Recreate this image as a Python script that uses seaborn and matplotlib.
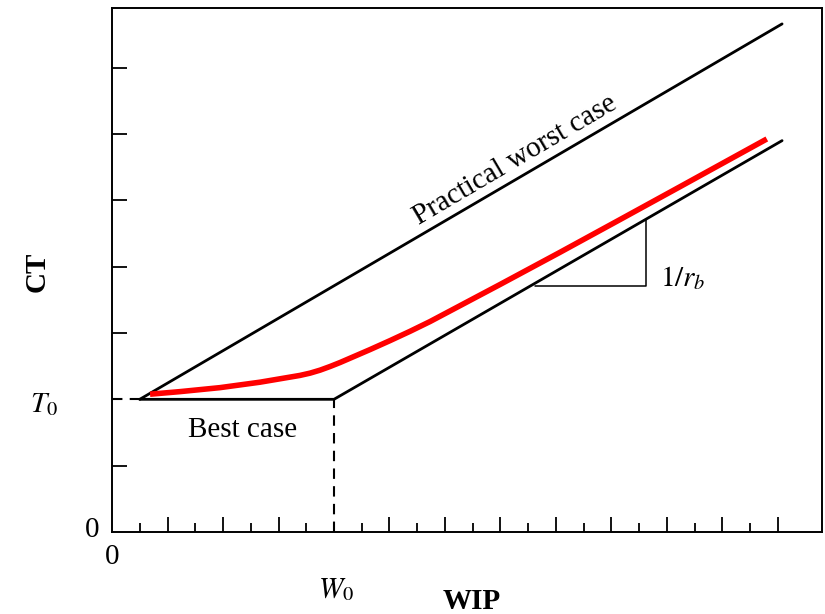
import matplotlib
matplotlib.use("Agg")
import matplotlib.pyplot as plt
import seaborn as sns

# values (x = WIP in tick units, y = CT in tick units)
worst_x = [1.0, 24.15]
worst_y = [2.0, 7.66]
best_x = [1.0, 8.0, 24.15]
best_y = [2.0, 2.0, 5.90]
real_x = [1.37, 2.45, 3.89, 5.33, 6.77, 7.14, 7.50, 7.86, 8.22, 8.58, 9.30, 10.02,
          10.74, 11.46, 13.98, 16.14, 18.31, 20.47, 23.6]
real_y = [2.077, 2.116, 2.176, 2.258, 2.36, 2.395, 2.44, 2.495, 2.555, 2.62, 2.75, 2.885,
          3.025, 3.172, 3.73, 4.215, 4.71, 5.205, 5.925]
t0_x = [0.0, 1.0]
t0_y = [2.0, 2.0]
w0_x = [8.0, 8.0]
w0_y = [0.0, 2.0]
slope_x = [15.24, 19.24, 19.24]
slope_y = [3.71, 3.71, 4.71]
x_major = [2, 4, 6, 10, 12, 14, 16, 18, 20, 22, 24]
x_minor = [1, 3, 5, 7, 9, 11, 13, 15, 17, 19, 21, 23]
y_ticks = [1, 3, 4, 5, 6, 7]

sns.set_theme(style="white")
plt.rcParams["font.family"] = ["Liberation Serif", "DejaVu Serif"]
plt.rcParams["mathtext.fontset"] = "stix"

fig = plt.figure(figsize=(8.25, 6.14), dpi=100)
ax = fig.add_axes([0.1358, 0.1336, 0.8606, 0.8534])

line_kw = dict(ax=ax, sort=False, estimator=None)
sns.lineplot(x=worst_x, y=worst_y, color="black", linewidth=2.0, **line_kw)
sns.lineplot(x=best_x, y=best_y, color="black", linewidth=2.0, **line_kw)
sns.lineplot(x=slope_x, y=slope_y, color="black", linewidth=1.1, **line_kw)
sns.lineplot(x=t0_x, y=t0_y, color="black", linewidth=1.5, linestyle=(0, (5, 3.5)), **line_kw)
sns.lineplot(x=w0_x, y=w0_y, color="black", linewidth=1.5, linestyle=(0, (5, 3.5)), **line_kw)
sns.lineplot(x=real_x, y=real_y, color="#ff0000", linewidth=4.0,
             solid_capstyle="butt", solid_joinstyle="round", **line_kw)

ax.set_xlim(0, 25.59)
ax.set_ylim(0, 7.90)

ax.set_xticks(x_major)
ax.set_xticks(x_minor, minor=True)
ax.set_yticks(y_ticks)
ax.set_xticklabels([])
ax.set_yticklabels([])
ax.tick_params(axis="both", which="major", direction="in", length=10.8, width=1.3,
               color="black", bottom=True, left=True)
ax.tick_params(axis="x", which="minor", direction="in", length=6.5, width=1.3,
               color="black", bottom=True)
ax.set_xlabel("")
ax.set_ylabel("")

for s in ax.spines.values():
    s.set_color("black")
    s.set_linewidth(1.4)

txt = dict(color="black", fontsize=21, clip_on=False)
ax.text(-0.72, 0.03, "0", ha="center", va="center", **txt)
ax.text(0.0, -0.38, "0", ha="center", va="center", **txt)
ax.text(-2.95, 1.81, r"$T_0$", ha="left", va="baseline", **txt)
ax.text(7.42, -0.98, r"$W_0$", ha="left", va="baseline", **txt)
ax.text(12.97, -1.16, "WIP", ha="center", va="baseline", fontweight="bold", **txt)
ax.text(-2.7, 3.92, "CT", ha="center", va="center", rotation=90, fontweight="bold", **txt)
ax.text(4.70, 1.43, "Best case", ha="center", va="baseline", **txt)
ax.text(14.52, 5.61, "Practical worst case", ha="center", va="center",
        rotation=30.5, rotation_mode="anchor", **txt)
ax.text(19.75, 3.70, r"$1/r_b$", ha="left", va="baseline", **txt)

fig.savefig("out.png", dpi=100)
